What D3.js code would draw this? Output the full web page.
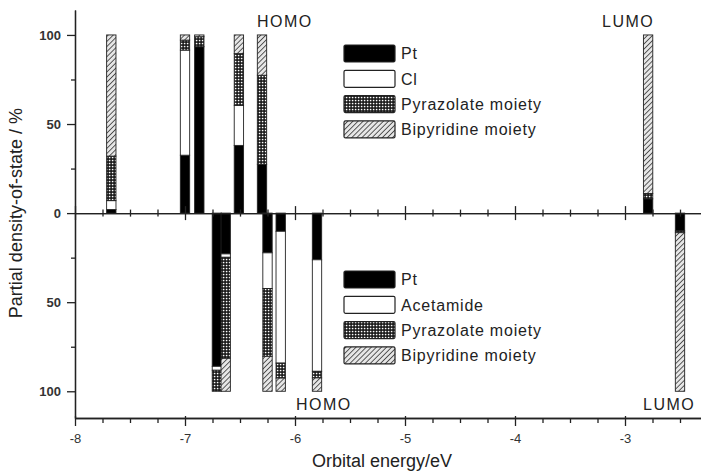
<!DOCTYPE html>
<html>
<head>
<meta charset="utf-8">
<script src="https://cdn.jsdelivr.net/npm/d3@7"></script>
<style>
  body { margin: 0; background: #fff; }
  text { font-family: "Liberation Sans", Arial, sans-serif; }
</style>
</head>
<body>
<div id="chart"></div>
<script>
// upper panel: Cl complex
const energyTop = [-7.67, -7.0, -6.87, -6.51, -6.30, -2.79];
const ptTop  = [2, 32.5, 93.4, 38, 27.4, 8];
const clTop  = [5, 59, 0, 22.5, 0, 0];
const pyrTop = [25, 5.6, 5.6, 29, 50, 3];
const bipTop = [68, 2.9, 1, 10.5, 22.6, 89];

// lower panel: acetamide complex
const energyBottom = [-6.71, -6.63, -6.25, -6.13, -5.80, -2.50];
const ptBottom  = [86, 22.9, 22.3, 10.2, 26.2, 10];
const acBottom  = [2.2, 1.9, 20, 74, 62.6, 0];
const pyrBottom = [11.8, 56.7, 38.1, 8.4, 3.7, 1];
const bipBottom = [0, 18.5, 19.6, 7.4, 7.5, 89];

const legendTop = ["Pt", "Cl", "Pyrazolate moiety", "Bipyridine moiety"];
const legendBottom = ["Pt", "Acetamide", "Pyrazolate moiety", "Bipyridine moiety"];
const xMajor = [-8, -7, -6, -5, -4, -3];
const yMajor = [-100, -50, 0, 50, 100];
const yMinor = [-75, -25, 25, 75];

const width = 701, height = 471;
const barW = 0.085; // eV

const svg = d3.select("#chart").append("svg")
  .attr("width", width).attr("height", height);

const x = d3.scaleLinear().domain([-8, -2.3]).range([75, 702]);
const y = d3.scaleLinear().domain([-115, 114]).range([418, 10]);

const xMinor = d3.range(-8, -2.3, 0.25).filter(v => !Number.isInteger(v));

// patterns
const defs = svg.append("defs");
const grid = defs.append("pattern").attr("id", "grid")
  .attr("patternUnits", "userSpaceOnUse").attr("width", 3).attr("height", 3);
grid.append("rect").attr("width", 3).attr("height", 3).attr("fill", "#111");
grid.append("rect").attr("x", 0.8).attr("y", 0.8).attr("width", 1.6).attr("height", 1.5).attr("fill", "#fff");

const hatch = defs.append("pattern").attr("id", "hatch")
  .attr("patternUnits", "userSpaceOnUse").attr("width", 3.6).attr("height", 3.6)
  .attr("patternTransform", "rotate(45)");
hatch.append("rect").attr("width", 3.6).attr("height", 3.6).attr("fill", "#e6e6e6");
hatch.append("line").attr("x1", 0).attr("y1", 0).attr("x2", 0).attr("y2", 3.6)
  .attr("stroke", "#2a2a2a").attr("stroke-width", 1.5);

const keys = ["pt", "mid", "pyr", "bip"];
const fills = { pt: "#000", mid: "#fff", pyr: "url(#grid)", bip: "url(#hatch)" };

const rowsTop = energyTop.map((e, i) => ({ e, pt: ptTop[i], mid: clTop[i], pyr: pyrTop[i], bip: bipTop[i] }));
const rowsBottom = energyBottom.map((e, i) => ({ e, pt: ptBottom[i], mid: acBottom[i], pyr: pyrBottom[i], bip: bipBottom[i] }));

const stack = d3.stack().keys(keys);

function drawBars(rows, sign) {
  const g = svg.append("g");
  stack(rows).forEach(layer => {
    g.selectAll(null)
      .data(layer.filter(d => d[1] - d[0] > 0))
      .join("rect")
        .attr("x", d => x(d.data.e - barW / 2))
        .attr("width", d => x(d.data.e + barW / 2) - x(d.data.e - barW / 2))
        .attr("y", d => Math.min(y(sign * d[0]), y(sign * d[1])))
        .attr("height", d => Math.abs(y(sign * d[1]) - y(sign * d[0])))
        .attr("fill", fills[layer.key])
        .attr("stroke", "#222")
        .attr("stroke-width", 0.9);
  });
}
drawBars(rowsTop, 1);
drawBars(rowsBottom, -1);

// left axis
svg.append("g").attr("transform", "translate(75,0)")
  .call(d3.axisLeft(y).tickValues(yMajor).tickFormat(d => Math.abs(d)).tickSize(8).tickSizeOuter(0).tickPadding(6))
  .call(g => g.selectAll("text").attr("font-size", 13).attr("fill", "#333").attr("font-weight", "bold"));
svg.append("g").attr("transform", "translate(75,0)")
  .call(d3.axisLeft(y).tickValues(yMinor).tickFormat("").tickSize(4).tickSizeOuter(0));

// bottom axis
svg.append("g").attr("transform", `translate(0,${y.range()[0]})`)
  .call(d3.axisBottom(x).tickValues(xMajor).tickFormat(d => "-" + Math.abs(d)).tickSize(8).tickSizeOuter(0).tickPadding(8))
  .call(g => g.selectAll(".tick line").attr("y1", -2))
  .call(g => g.selectAll("text").attr("font-size", 13).attr("fill", "#333"));
svg.append("g").attr("transform", `translate(0,${y.range()[0]})`)
  .call(d3.axisBottom(x).tickValues(xMinor).tickFormat("").tickSize(5).tickSizeOuter(0));

// zero line with crossing ticks
svg.append("g").attr("transform", `translate(0,${y(0)})`)
  .call(d3.axisBottom(x).tickValues(xMajor).tickFormat("").tickSize(7).tickSizeOuter(0))
  .call(g => g.selectAll(".tick line").attr("y1", -7));
svg.append("g").attr("transform", `translate(0,${y(0)})`)
  .call(d3.axisBottom(x).tickValues(xMinor).tickFormat("").tickSize(3.5).tickSizeOuter(0))
  .call(g => g.selectAll(".tick line").attr("y1", -3.5));

svg.selectAll(".domain, .tick line").attr("stroke", "#222").attr("stroke-width", 1.3);

// axis titles
svg.append("text")
  .attr("x", 382).attr("y", 467)
  .attr("text-anchor", "middle").attr("font-size", 18).attr("fill", "#222")
  .text("Orbital energy/eV");
svg.append("text")
  .attr("transform", `translate(22,${y(0)}) rotate(-90)`)
  .attr("text-anchor", "middle").attr("font-size", 18).attr("fill", "#222")
  .text("Partial density-of-state / %");

// HOMO / LUMO labels
const labels = [
  { t: "HOMO", x: 257, y: 27 },
  { t: "LUMO", x: 602, y: 27 },
  { t: "HOMO", x: 296, y: 410 },
  { t: "LUMO", x: 643, y: 410 }
];
svg.append("g").selectAll("text").data(labels).join("text")
  .attr("x", d => d.x).attr("y", d => d.y)
  .attr("font-size", 16).attr("letter-spacing", 1.5).attr("fill", "#222")
  .text(d => d.t);

// legends
function legend(names, top) {
  const g = svg.append("g");
  names.forEach((n, i) => {
    const yy = top + i * 25.3;
    g.append("rect").attr("x", 344).attr("y", yy).attr("width", 51).attr("height", 17)
      .attr("rx", 1.5).attr("fill", fills[keys[i]]).attr("stroke", "#222").attr("stroke-width", 1.2);
    g.append("text").attr("x", 401).attr("y", yy + 8.5).attr("dy", "0.36em")
      .attr("font-size", 16).attr("letter-spacing", 0.8).attr("fill", "#222")
      .text(n);
  });
}
legend(legendTop, 45);
legend(legendBottom, 271);
</script>
</body>
</html>
